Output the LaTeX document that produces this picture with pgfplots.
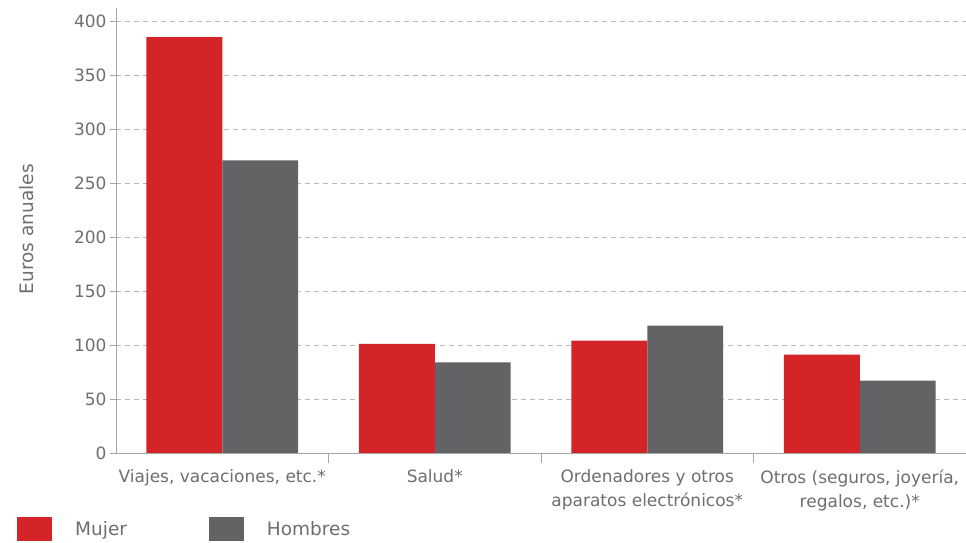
\documentclass[border=0pt]{standalone}
\usepackage{pgfplots}
\pgfplotsset{compat=1.18}
\usepackage{fontspec}
\setmainfont{DejaVu Sans}

\definecolor{myred}{RGB}{212,36,40}
\definecolor{mygray}{RGB}{99,99,101}
\definecolor{textgray}{RGB}{110,110,110}
\definecolor{axisgray}{RGB}{165,165,165}
\definecolor{gridgray}{RGB}{185,185,185}

\begin{document}
\begin{tikzpicture}[font=\fontsize{17}{24}\selectfont]
\begin{axis}[
    name=main,
    scale only axis,
    width=850pt, height=445pt,
    ybar=0pt, bar width=0.357,
    xmin=-0.5, xmax=3.5,
    ymin=0, ymax=412,
    axis x line*=bottom, axis y line*=left,
    axis line style={draw=axisgray, line width=0.9pt},
    ytick={0,50,...,400},
    ymajorgrids,
    major grid style={draw=gridgray, line width=0.9pt, dash pattern=on 5pt off 4pt},
    tick align=outside,
    major tick length=6pt,
    ytick style={draw=axisgray, line width=0.9pt},
    xtick={0,1,2,3},
    xticklabels={
        {Viajes, vacaciones, etc.*},
        {Salud*},
        {Ordenadores y otros\\aparatos electrónicos*},
        {Otros (seguros, joyería,\\regalos, etc.)*}},
    xtick style={draw=none},
    extra x ticks={0.5,1.5,2.5},
    extra x tick labels={},
    extra x tick style={xtick style={draw=axisgray, line width=0.9pt}, major tick length=10pt, grid=none},
    xticklabel style={align=center, text=textgray, yshift=-7pt},
    yticklabel style={text=textgray},
    /pgf/number format/assume math mode=true,
    ylabel={Euros anuales},
    every axis y label/.style={at={(axis description cs:-0.1047,0.503)}, rotate=90, anchor=center, text=textgray, font=\fontsize{18.5}{22}\selectfont},
    legend columns=2,
    legend style={at={(axis description cs:-0.1165,-0.171)}, anchor=west, draw=none, fill=none,
        inner sep=0pt, text=textgray, font=\fontsize{18.5}{22}\selectfont,
        nodes={inner xsep=0pt},
        /tikz/every odd column/.append style={column sep=23pt},
        /tikz/every even column/.append style={column sep=82pt}},
    legend image code/.code={\fill[#1] (0pt,-12pt) rectangle (35pt,12pt);},
]
\addplot[fill=myred, draw=none] coordinates {(0,385) (1,101) (2,104) (3,91)};
\addplot[fill=mygray, draw=none] coordinates {(0,271) (1,84) (2,118) (3,67)};
\legend{Mujer, Hombres}
\end{axis}
\pgfresetboundingbox
\path[use as bounding box] ([xshift=-116pt,yshift=-90pt]main.south west) rectangle ([yshift=8pt]main.north east);
\end{tikzpicture}
\end{document}
